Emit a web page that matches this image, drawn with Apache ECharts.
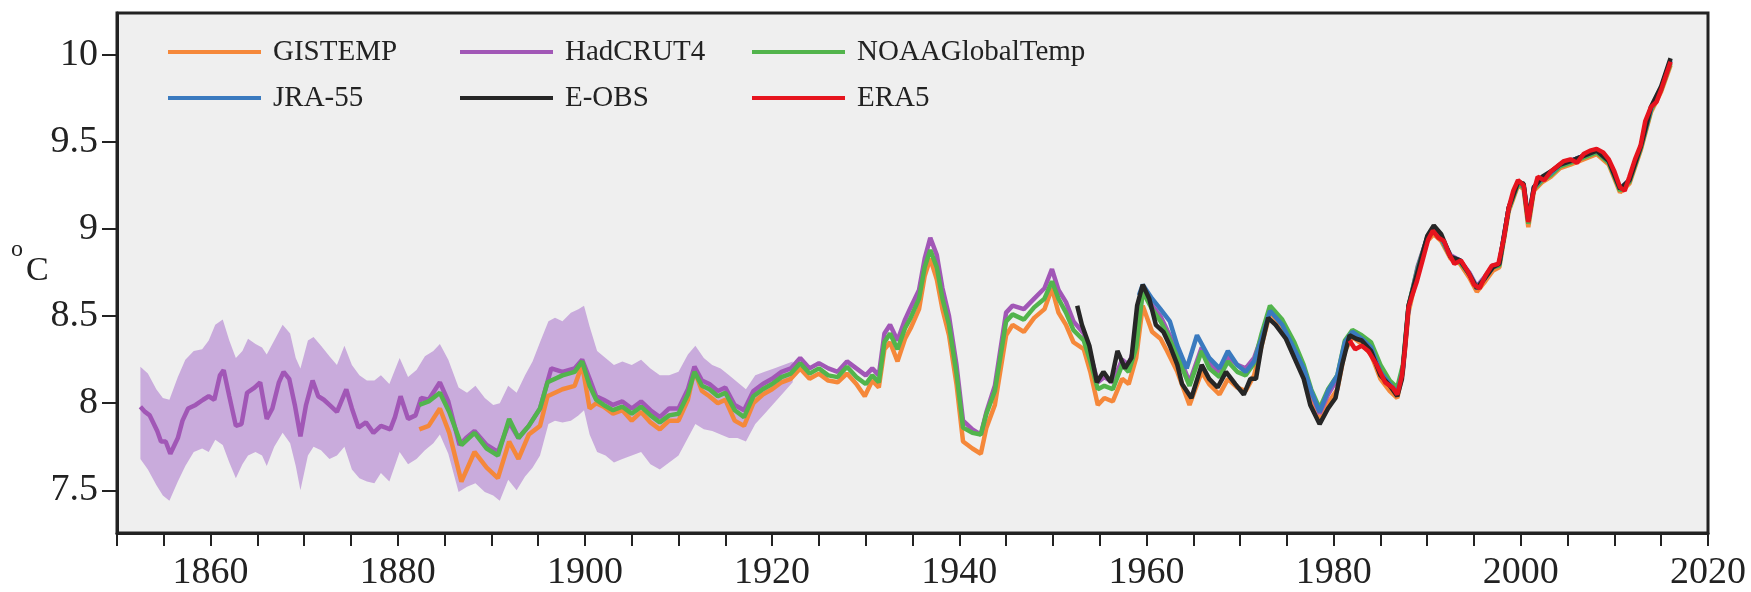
<!DOCTYPE html>
<html>
<head>
<meta charset="utf-8">
<title>Temperature series</title>
<script src="https://cdn.jsdelivr.net/npm/echarts@6/dist/echarts.min.js"></script>
<style>
  html, body { margin: 0; padding: 0; background: #fff; }
  #main { width: 1751px; height: 592px; }
</style>
</head>
<body>
<div id="main"></div>
<script>
// tick values
var xLabelValues = [1860, 1880, 1900, 1920, 1940, 1960, 1980, 2000, 2020];
var yTickValues = [7.5, 8, 8.5, 9, 9.5, 10];

// HadCRUT4 uncertainty band
var bandYears = [1852.5, 1853.3, 1854.2, 1854.9, 1855.6, 1856.5, 1857.3, 1858.2, 1859.1, 1859.8,
  1860.5, 1861.3, 1862.0, 1862.7, 1863.4, 1864.0, 1864.8, 1865.5, 1866.0, 1866.8,
  1867.7, 1868.5, 1869.1, 1869.6, 1870.4, 1871.0, 1871.8, 1872.7, 1873.5, 1874.3,
  1875.1, 1875.9, 1876.7, 1877.5, 1878.2, 1879.1, 1880.2, 1881.1, 1882.0, 1882.9,
  1883.8, 1884.5, 1885.4, 1886.5, 1887.4, 1888.3, 1889.3, 1890.2, 1890.9, 1891.8,
  1892.7, 1893.6, 1894.4, 1895.2, 1896.1, 1896.8, 1897.6, 1898.5, 1899.3, 1899.9,
  1900.5, 1901.3, 1902.2, 1903.1, 1904.0, 1905.0, 1906.0, 1907.0, 1908.0, 1909.0,
  1910.0, 1911.0, 1911.8, 1912.7, 1913.6, 1914.5, 1915.4, 1916.3, 1917.2, 1918.2,
  1919.2, 1920.2, 1921.2, 1922.2];
var bandLo = [7.68, 7.62, 7.53, 7.47, 7.44, 7.55, 7.64, 7.72, 7.74, 7.72,
  7.79, 7.76, 7.66, 7.57, 7.65, 7.70, 7.72, 7.70, 7.64, 7.75,
  7.83, 7.77, 7.64, 7.50, 7.70, 7.75, 7.73, 7.68, 7.70, 7.75,
  7.62, 7.57, 7.55, 7.54, 7.60, 7.55, 7.72, 7.65, 7.68, 7.73,
  7.77, 7.82, 7.71, 7.49, 7.52, 7.54, 7.49, 7.47, 7.44, 7.56,
  7.50, 7.58, 7.63, 7.70, 7.88, 7.90, 7.89, 7.90, 7.93, 7.96,
  7.82, 7.72, 7.70, 7.66, 7.68, 7.70, 7.72, 7.65, 7.62, 7.66,
  7.70, 7.80, 7.88, 7.85, 7.84, 7.82, 7.80, 7.80, 7.78, 7.88,
  7.94, 8.00, 8.06, 8.12];
var bandHi = [8.21, 8.17, 8.08, 8.03, 8.02, 8.15, 8.25, 8.30, 8.31, 8.36,
  8.45, 8.48, 8.36, 8.26, 8.30, 8.37, 8.34, 8.32, 8.28, 8.36,
  8.45, 8.40, 8.26, 8.20, 8.36, 8.38, 8.33, 8.27, 8.22, 8.33,
  8.22, 8.16, 8.13, 8.13, 8.16, 8.11, 8.26, 8.15, 8.19, 8.27,
  8.30, 8.34, 8.25, 8.09, 8.06, 8.10, 8.03, 7.99, 8.00, 8.10,
  8.06, 8.16, 8.24, 8.35, 8.47, 8.49, 8.47, 8.52, 8.54, 8.56,
  8.44, 8.30, 8.26, 8.22, 8.24, 8.22, 8.25, 8.20, 8.16, 8.16,
  8.18, 8.28, 8.33, 8.26, 8.22, 8.20, 8.16, 8.12, 8.08, 8.16,
  8.18, 8.20, 8.22, 8.24];

var gistemp = [[1882.3, 7.85], [1883.3, 7.87], [1884.5, 7.97], [1885.5, 7.83], [1886.8, 7.55],
  [1888.2, 7.72], [1889.5, 7.63], [1890.7, 7.57], [1891.9, 7.78], [1892.9, 7.68], [1894.0, 7.82],
  [1895.2, 7.87], [1896.0, 8.04], [1897.6, 8.08], [1898.9, 8.10], [1899.7, 8.22], [1900.5, 7.97],
  [1901.2, 8.00], [1902, 7.98], [1903, 7.94], [1904, 7.96], [1905, 7.90], [1906, 7.95], [1907, 7.89],
  [1908, 7.85], [1909, 7.90], [1910, 7.90], [1911, 8.02], [1911.7, 8.19], [1912.5, 8.07], [1913.3, 8.04],
  [1914.2, 8.00], [1915, 8.02], [1916, 7.90], [1917, 7.87], [1918, 8.00], [1919, 8.05], [1920, 8.08],
  [1921, 8.12], [1922, 8.14], [1923, 8.20], [1924, 8.14], [1925, 8.17], [1926, 8.13], [1927, 8.12],
  [1928, 8.17], [1929, 8.11], [1929.9, 8.04], [1930.7, 8.13], [1931.4, 8.09], [1932, 8.31], [1932.6, 8.35],
  [1933.4, 8.24], [1934.2, 8.37], [1934.8, 8.43], [1935.7, 8.54], [1936.3, 8.73], [1936.9, 8.83],
  [1937.6, 8.71], [1938.2, 8.54], [1938.9, 8.39], [1939.7, 8.11], [1940.4, 7.78], [1941.4, 7.74],
  [1942.3, 7.71], [1942.9, 7.86], [1943.8, 7.99], [1945, 8.39], [1945.7, 8.45], [1946.9, 8.41],
  [1948, 8.49], [1949.1, 8.54], [1949.9, 8.66], [1950.6, 8.52], [1951.4, 8.45], [1952.2, 8.35],
  [1953.3, 8.31], [1954, 8.18], [1954.8, 7.99], [1955.5, 8.03], [1956.4, 8.01], [1957.4, 8.14],
  [1958.1, 8.11], [1958.9, 8.26], [1959.6, 8.56], [1960.6, 8.41], [1961.5, 8.37], [1962.2, 8.30],
  [1963.3, 8.18], [1964.6, 7.99], [1965.9, 8.18], [1966.7, 8.11], [1967.8, 8.05], [1968.7, 8.14],
  [1969.7, 8.09], [1970.6, 8.07], [1971.5, 8.16], [1972.3, 8.33], [1973.2, 8.52], [1974.5, 8.44],
  [1975.8, 8.30], [1976.8, 8.16], [1977.6, 8.02], [1978.5, 7.90], [1979.4, 8.00], [1980.4, 8.08],
  [1981.2, 8.30], [1982, 8.38], [1983, 8.34], [1984, 8.28], [1985, 8.14], [1986, 8.07], [1986.8, 8.03],
  [1987.4, 8.18], [1988, 8.52], [1989, 8.76], [1990, 8.93], [1990.7, 8.97], [1991.5, 8.93], [1992.5, 8.83],
  [1993.5, 8.80], [1994.5, 8.72], [1995.3, 8.64], [1996.2, 8.70], [1997, 8.76], [1997.7, 8.78],
  [1998.7, 9.10], [1999.7, 9.25], [2000.3, 9.23], [2000.8, 9.01], [2001.4, 9.22], [2002.3, 9.27],
  [2003.2, 9.30], [2004.2, 9.35], [2005.3, 9.37], [2006.7, 9.40], [2008.1, 9.43], [2009.4, 9.37],
  [2010.6, 9.21], [2011.6, 9.26], [2012.8, 9.45], [2013.9, 9.67], [2015, 9.79], [2016, 9.94]];

var hadcrut4 = [[1852.5, 7.98], [1853.0, 7.95], [1853.5, 7.93], [1854.3, 7.84], [1854.7, 7.78],
  [1855.2, 7.78], [1855.7, 7.71], [1856.5, 7.80], [1857.0, 7.90], [1857.6, 7.97], [1858.4, 7.99],
  [1859.2, 8.02], [1859.8, 8.04], [1860.4, 8.02], [1861.0, 8.16], [1861.4, 8.19], [1862.0, 8.04],
  [1862.7, 7.87], [1863.3, 7.88], [1863.9, 8.06], [1864.7, 8.09], [1865.3, 8.12], [1866.0, 7.91],
  [1866.6, 7.97], [1867.3, 8.12], [1867.8, 8.18], [1868.4, 8.14], [1869.0, 7.99], [1869.6, 7.81],
  [1870.2, 7.99], [1870.9, 8.13], [1871.5, 8.04], [1872.1, 8.02], [1872.7, 7.99], [1873.5, 7.95],
  [1874.5, 8.08], [1875.1, 7.97], [1875.8, 7.86], [1876.6, 7.89], [1877.4, 7.83], [1878.2, 7.87],
  [1879.2, 7.85], [1879.7, 7.92], [1880.3, 8.04], [1881.1, 7.91], [1881.9, 7.93], [1882.5, 8.03],
  [1883.3, 8.02], [1884.5, 8.12], [1885.4, 8.01], [1886.6, 7.76], [1887.3, 7.80], [1888.2, 7.84],
  [1889.5, 7.76], [1890.7, 7.72], [1891.9, 7.89], [1892.9, 7.80], [1894.0, 7.87], [1895.2, 7.97],
  [1896.4, 8.20], [1897.6, 8.18], [1898.9, 8.20], [1899.7, 8.25], [1900.5, 8.14], [1901.2, 8.04],
  [1902, 8.02], [1903, 7.99], [1904, 8.01], [1905, 7.97], [1906, 8.01], [1907, 7.96], [1908, 7.92],
  [1909, 7.97], [1910, 7.97], [1911, 8.08], [1911.7, 8.21], [1912.5, 8.13], [1913.3, 8.11],
  [1914.2, 8.07], [1915, 8.09], [1916, 7.99], [1917, 7.96], [1918, 8.07], [1919, 8.11], [1920, 8.14],
  [1921, 8.18], [1922, 8.20], [1923, 8.26], [1924, 8.20], [1925, 8.23], [1926, 8.20], [1927, 8.18],
  [1928, 8.24], [1929, 8.20], [1930, 8.16], [1930.7, 8.20], [1931.4, 8.16], [1932, 8.40], [1932.6, 8.45],
  [1933.4, 8.36], [1934.2, 8.48], [1934.8, 8.55], [1935.7, 8.65], [1936.3, 8.83], [1936.9, 8.95],
  [1937.6, 8.85], [1938.2, 8.66], [1938.9, 8.50], [1939.7, 8.22], [1940.4, 7.90], [1941.4, 7.85],
  [1942.3, 7.82], [1942.9, 7.95], [1943.8, 8.10], [1945, 8.52], [1945.7, 8.56], [1946.9, 8.54],
  [1948, 8.60], [1949.1, 8.66], [1949.9, 8.77], [1950.6, 8.65], [1951.4, 8.58], [1952.2, 8.47],
  [1953.3, 8.40], [1954, 8.28], [1954.8, 8.12], [1955.5, 8.15], [1956.4, 8.12], [1957.4, 8.25],
  [1958.1, 8.22], [1958.9, 8.35], [1959.6, 8.65], [1960.6, 8.56], [1961.5, 8.50], [1962.2, 8.42],
  [1963.3, 8.30], [1964.6, 8.12], [1965.9, 8.32], [1966.7, 8.23], [1967.8, 8.18], [1968.7, 8.27],
  [1969.7, 8.22], [1970.6, 8.20], [1971.5, 8.26], [1972.3, 8.38], [1973.2, 8.54], [1974.5, 8.46],
  [1975.8, 8.32], [1976.8, 8.20], [1977.6, 8.06], [1978.5, 7.94], [1979.4, 8.05], [1980.4, 8.14],
  [1981.2, 8.33], [1982, 8.41], [1983, 8.38], [1984, 8.33], [1985, 8.19], [1986, 8.11], [1986.8, 8.07],
  [1987.4, 8.20], [1988, 8.55], [1989, 8.79], [1990, 8.95], [1990.7, 9.00], [1991.5, 8.95], [1992.5, 8.85],
  [1993.5, 8.82], [1994.5, 8.75], [1995.3, 8.67], [1996.2, 8.73], [1997, 8.79], [1997.7, 8.80],
  [1998.7, 9.12], [1999.7, 9.27], [2000.3, 9.25], [2000.8, 9.04], [2001.4, 9.24], [2002.3, 9.29],
  [2003.2, 9.32], [2004.2, 9.37], [2005.3, 9.39], [2006.7, 9.42], [2008.1, 9.45], [2009.4, 9.39],
  [2010.6, 9.23], [2011.6, 9.28], [2012.8, 9.47], [2013.9, 9.69], [2015, 9.81], [2016, 9.96]];

var noaa = [[1882.3, 7.99], [1883.3, 8.01], [1884.5, 8.06], [1885.5, 7.95], [1886.8, 7.76],
  [1888.2, 7.83], [1889.5, 7.74], [1890.7, 7.70], [1891.9, 7.91], [1892.9, 7.80], [1894.0, 7.87],
  [1895.2, 7.97], [1896.0, 8.12], [1897.6, 8.16], [1898.9, 8.18], [1899.7, 8.24], [1900.5, 8.10],
  [1901.2, 8.02], [1902, 7.99], [1903, 7.96], [1904, 7.98], [1905, 7.94], [1906, 7.98], [1907, 7.93],
  [1908, 7.89], [1909, 7.93], [1910, 7.94], [1911, 8.05], [1911.7, 8.18], [1912.5, 8.10], [1913.3, 8.08],
  [1914.2, 8.04], [1915, 8.06], [1916, 7.96], [1917, 7.92], [1918, 8.04], [1919, 8.08], [1920, 8.11],
  [1921, 8.15], [1922, 8.17], [1923, 8.23], [1924, 8.17], [1925, 8.20], [1926, 8.16], [1927, 8.15],
  [1928, 8.21], [1929, 8.15], [1930, 8.11], [1930.7, 8.16], [1931.4, 8.12], [1932, 8.35], [1932.6, 8.40],
  [1933.4, 8.31], [1934.2, 8.43], [1934.8, 8.49], [1935.7, 8.60], [1936.3, 8.78], [1936.9, 8.88],
  [1937.6, 8.78], [1938.2, 8.60], [1938.9, 8.45], [1939.7, 8.17], [1940.4, 7.86], [1941.4, 7.83],
  [1942.3, 7.82], [1942.9, 7.94], [1943.8, 8.07], [1945, 8.47], [1945.7, 8.51], [1946.9, 8.48],
  [1948, 8.55], [1949.1, 8.60], [1949.9, 8.70], [1950.6, 8.60], [1951.4, 8.52], [1952.2, 8.42],
  [1953.3, 8.36], [1954, 8.24], [1954.8, 8.08], [1955.5, 8.10], [1956.4, 8.08], [1957.4, 8.22],
  [1958.1, 8.18], [1958.9, 8.32], [1959.6, 8.64], [1960.6, 8.54], [1961.5, 8.47], [1962.2, 8.40],
  [1963.3, 8.27], [1964.6, 8.10], [1965.9, 8.30], [1966.7, 8.20], [1967.8, 8.15], [1968.7, 8.24],
  [1969.7, 8.18], [1970.6, 8.16], [1971.5, 8.23], [1972.3, 8.40], [1973.2, 8.56], [1974.5, 8.48],
  [1975.8, 8.35], [1976.8, 8.22], [1977.6, 8.08], [1978.5, 7.97], [1979.4, 8.08], [1980.4, 8.16],
  [1981.2, 8.36], [1982, 8.42], [1983, 8.39], [1984, 8.35], [1985, 8.22], [1986, 8.13], [1986.8, 8.09],
  [1987.4, 8.22], [1988, 8.56], [1989, 8.78], [1990, 8.95], [1990.7, 8.99], [1991.5, 8.94], [1992.5, 8.84],
  [1993.5, 8.81], [1994.5, 8.74], [1995.3, 8.66], [1996.2, 8.72], [1997, 8.78], [1997.7, 8.79],
  [1998.7, 9.11], [1999.7, 9.26], [2000.3, 9.24], [2000.8, 9.03], [2001.4, 9.23], [2002.3, 9.28],
  [2003.2, 9.31], [2004.2, 9.36], [2005.3, 9.38], [2006.7, 9.41], [2008.1, 9.44], [2009.4, 9.38],
  [2010.6, 9.22], [2011.6, 9.27], [2012.8, 9.46], [2013.9, 9.68], [2015, 9.80], [2016, 9.95]];

var jra55 = [[1959.2, 8.62], [1959.6, 8.68], [1960.6, 8.60], [1961.5, 8.54], [1962.5, 8.47],
  [1963.3, 8.33], [1964.3, 8.20], [1965.4, 8.39], [1966.7, 8.26], [1967.8, 8.20], [1968.7, 8.30],
  [1969.7, 8.22], [1970.6, 8.18], [1971.5, 8.24], [1972.3, 8.37], [1973.2, 8.53], [1974.5, 8.45],
  [1975.8, 8.31], [1976.8, 8.20], [1977.6, 8.07], [1978.5, 7.95], [1979.4, 8.07], [1980.4, 8.16],
  [1981.2, 8.35], [1982, 8.41], [1983, 8.37], [1984, 8.32], [1985, 8.18], [1986, 8.11], [1986.8, 8.06],
  [1987.4, 8.19], [1988, 8.55], [1989, 8.77], [1990, 8.95], [1990.7, 9.00], [1991.5, 8.95], [1992.5, 8.84],
  [1993.5, 8.82], [1994.5, 8.74], [1995.3, 8.66], [1996.2, 8.72], [1997, 8.78], [1997.7, 8.80],
  [1998.7, 9.12], [1999.7, 9.27], [2000.3, 9.25], [2000.8, 9.05], [2001.4, 9.24], [2002.3, 9.29],
  [2003.2, 9.32], [2004.2, 9.37], [2005.3, 9.39], [2006.7, 9.42], [2008.1, 9.45], [2009.4, 9.39],
  [2010.6, 9.23], [2011.6, 9.28], [2012.8, 9.47], [2013.9, 9.69], [2015, 9.81], [2016, 9.97]];

var eobs = [[1952.6, 8.56], [1953.1, 8.45], [1953.9, 8.33], [1954.7, 8.12], [1955.4, 8.18],
  [1956.2, 8.12], [1956.9, 8.30], [1957.7, 8.20], [1958.4, 8.26], [1959.0, 8.56], [1959.6, 8.68],
  [1960.3, 8.60], [1961.0, 8.45], [1961.8, 8.41], [1962.5, 8.33], [1963.3, 8.22], [1963.8, 8.11],
  [1964.8, 8.03], [1965.9, 8.22], [1966.7, 8.14], [1967.6, 8.09], [1968.5, 8.18], [1969.5, 8.11],
  [1970.4, 8.05], [1971.1, 8.14], [1971.7, 8.14], [1972.3, 8.33], [1973.0, 8.49], [1973.8, 8.45],
  [1974.9, 8.37], [1975.8, 8.26], [1976.8, 8.14], [1977.5, 7.99], [1978.5, 7.88], [1979.4, 7.97],
  [1980.2, 8.03], [1980.9, 8.22], [1981.7, 8.39], [1982.4, 8.37], [1983, 8.36], [1984, 8.30],
  [1985, 8.16], [1986, 8.10], [1986.8, 8.04], [1987.3, 8.14], [1988, 8.56], [1989, 8.76], [1990, 8.96],
  [1990.7, 9.02], [1991.5, 8.97], [1992.5, 8.84], [1993.5, 8.82], [1994.5, 8.74], [1995.3, 8.66],
  [1996.2, 8.72], [1997, 8.78], [1997.7, 8.80], [1998.7, 9.12], [1999.7, 9.27], [2000.3, 9.26],
  [2000.8, 9.05], [2001.4, 9.24], [2002.3, 9.30], [2003.2, 9.33], [2004.2, 9.37], [2005.3, 9.39],
  [2006.7, 9.42], [2008.1, 9.45], [2009.4, 9.39], [2010.6, 9.23], [2011.6, 9.28], [2012.8, 9.47],
  [2013.9, 9.70], [2015, 9.82], [2016, 9.98]];

var era5 = [[1981.7, 8.36], [1982.3, 8.31], [1983.0, 8.33], [1983.7, 8.30], [1984.6, 8.22],
  [1985.5, 8.12], [1986.3, 8.09], [1986.8, 8.05], [1987.3, 8.16], [1987.6, 8.30], [1988.0, 8.55],
  [1988.4, 8.62], [1988.9, 8.70], [1989.5, 8.82], [1990.1, 8.94], [1990.6, 8.99], [1991.2, 8.95],
  [1991.8, 8.93], [1992.3, 8.86], [1992.9, 8.80], [1993.6, 8.82], [1994.4, 8.75], [1995.0, 8.68],
  [1995.6, 8.66], [1996.2, 8.73], [1996.9, 8.79], [1997.6, 8.80], [1998.2, 8.95], [1998.7, 9.12],
  [1999.2, 9.22], [1999.7, 9.28], [2000.3, 9.25], [2000.8, 9.04], [2001.3, 9.20], [2001.8, 9.30],
  [2002.5, 9.28], [2003.2, 9.33], [2003.9, 9.36], [2004.6, 9.39], [2005.3, 9.40], [2006.0, 9.38],
  [2006.7, 9.43], [2007.4, 9.45], [2008.1, 9.46], [2008.8, 9.44], [2009.4, 9.40], [2010.0, 9.33],
  [2010.6, 9.24], [2011.1, 9.22], [2011.6, 9.30], [2012.2, 9.40], [2012.8, 9.48], [2013.3, 9.62],
  [2013.9, 9.70], [2014.5, 9.73], [2015.0, 9.80], [2015.5, 9.88], [2016.0, 9.96]];

var serif = 'Liberation Serif';
var textColor = '#222';

function lineSeries(name, data, color) {
    return {
        name: name,
        type: 'line',
        data: data,
        symbol: 'none',
        showSymbol: false,
        color: color,
        lineStyle: { width: 4.5, color: color },
        clip: true
    };
}

function legendCol(names, left) {
    return {
        data: names,
        orient: 'vertical',
        left: left,
        top: 37,
        padding: 0,
        icon: 'rect',
        itemWidth: 93,
        itemHeight: 4,
        itemGap: 16,
        selectedMode: false,
        textStyle: {
            fontFamily: serif,
            fontSize: 29,
            lineHeight: 30,
            color: textColor,
            padding: [0, 0, 0, 7]
        }
    };
}

var myChart = echarts.init(document.getElementById('main'));

var option = {
    animation: false,
    backgroundColor: '#fff',
    grid: {
        left: 117,
        right: 43,
        top: 13,
        bottom: 57,
        show: true,
        backgroundColor: '#efefef',
        borderColor: '#222',
        borderWidth: 3
    },
    legend: [
        legendCol(['GISTEMP', 'JRA-55'], 168),
        legendCol(['HadCRUT4', 'E-OBS'], 460),
        legendCol(['NOAAGlobalTemp', 'ERA5'], 752)
    ],
    xAxis: {
        type: 'value',
        min: 1850,
        max: 2020,
        interval: 5,
        splitLine: { show: false },
        axisLine: { show: true, lineStyle: { color: '#222', width: 3 } },
        axisTick: { show: true, length: 13, lineStyle: { color: '#222', width: 2 } },
        axisLabel: {
            customValues: xLabelValues,
            formatter: function (v) { return String(v); },
            margin: 21,
            fontFamily: serif,
            fontSize: 38,
            color: textColor
        }
    },
    yAxis: {
        type: 'value',
        min: 7.255,
        max: 10.24,
        splitLine: { show: false },
        axisLine: { show: true, lineStyle: { color: '#222', width: 3 } },
        axisTick: { show: true, customValues: yTickValues, length: 15, lineStyle: { color: '#222', width: 2 } },
        axisLabel: {
            customValues: yTickValues,
            margin: 19,
            fontFamily: serif,
            fontSize: 38,
            color: textColor
        }
    },
    graphic: [
        { type: 'text', left: 11, top: 238, style: { text: 'o', font: '24px "Liberation Serif"', fill: textColor } },
        { type: 'text', left: 26, top: 254, style: { text: 'C', font: '34px "Liberation Serif"', fill: textColor } }
    ],
    series: [
        {
            name: 'band',
            type: 'custom',
            silent: true,
            clip: true,
            z: 1,
            data: bandYears.map(function (y, i) { return [y, bandLo[i], bandHi[i]]; }),
            encode: { x: 0, y: [1, 2] },
            renderItem: function (params, api) {
                if (params.dataIndex !== 0) return;
                var pts = [];
                for (var i = 0; i < bandYears.length; i++) pts.push(api.coord([bandYears[i], bandHi[i]]));
                for (var j = bandYears.length - 1; j >= 0; j--) pts.push(api.coord([bandYears[j], bandLo[j]]));
                return { type: 'polygon', shape: { points: pts }, style: { fill: '#c9abdc' } };
            }
        },
        lineSeries('GISTEMP', gistemp, '#f5883a'),
        lineSeries('HadCRUT4', hadcrut4, '#a157b6'),
        lineSeries('NOAAGlobalTemp', noaa, '#52b44c'),
        lineSeries('JRA-55', jra55, '#3a7abf'),
        lineSeries('E-OBS', eobs, '#262626'),
        lineSeries('ERA5', era5, '#e6141e')
    ]
};
myChart.setOption(option);
</script>
</body>
</html>
